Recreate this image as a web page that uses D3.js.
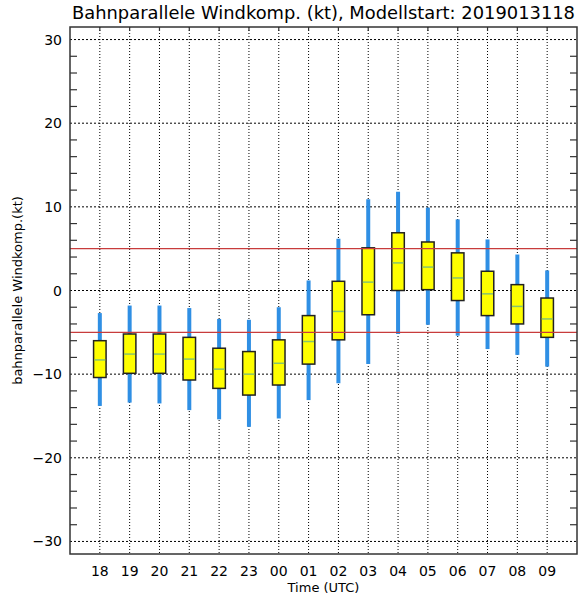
<!DOCTYPE html>
<html><head><meta charset="utf-8">
<script src="https://cdn.jsdelivr.net/npm/d3@7"></script>
<style>body{margin:0;background:#fff}svg{display:block}</style>
</head><body><svg id="c" width="578" height="599"></svg>
<script>
const categories = ["18","19","20","21","22","23","00","01","02","03","04","05","06","07","08","09"];
const whiskerLow  = [-13.8,-13.4,-13.5,-14.3,-15.4,-16.3,-15.3,-13.1,-11.1,-8.8,-5.2,-4.1,-5.4,-7.0,-7.7,-9.1];
const q1          = [-10.4, -9.9, -9.9,-10.7,-11.7,-12.5,-11.3, -8.8, -5.9,-2.9, 0.0, 0.1,-1.2,-3.0,-4.0,-5.6];
const median      = [ -8.3, -7.6, -7.6, -8.2, -9.4,-10.0, -8.7, -6.1, -2.5, 1.0, 3.3, 2.8, 1.5,-0.4,-1.9,-3.4];
const q3          = [ -6.0, -5.2, -5.2, -5.6, -6.9, -7.3, -5.9, -3.0,  1.1, 5.1, 6.9, 5.8, 4.5, 2.3, 0.7,-0.9];
const whiskerHigh = [ -2.7, -1.8, -1.8, -2.1, -3.4, -3.5, -2.0,  1.2,  6.2,10.9,11.8, 9.9, 8.5, 6.1, 4.3, 2.4];
const yTicks = [-30,-20,-10,0,10,20,30];
const yMinorTicks = d3.range(-30, 31, 2).filter(v => v % 10 !== 0);
const refLines = [-5, 5];
const titleText = "Bahnparallele Windkomp. (kt), Modellstart: 2019013118";
const yLabel = "bahnparallele Windkomp.(kt)";
const xLabel = "Time (UTC)";

const svg = d3.select("#c");
const L = 70, R = 577, T = 27, B = 554;
const x = d3.scaleLinear().domain([-1, 16]).range([L, R]);
const y = d3.scaleLinear().domain([-31.5, 31.5]).range([B, T]);
const font = "'DejaVu Sans', sans-serif";

// gridlines
svg.append("g").selectAll("line").data(yTicks).join("line")
  .attr("x1", L).attr("x2", R).attr("y1", d => y(d)).attr("y2", d => y(d))
  .attr("stroke", "#000").attr("stroke-width", 1).attr("stroke-dasharray", "2,2");
svg.append("g").selectAll("line").data(categories).join("line")
  .attr("x1", (d,i) => x(i)).attr("x2", (d,i) => x(i)).attr("y1", T).attr("y2", B)
  .attr("stroke", "#000").attr("stroke-width", 1).attr("stroke-dasharray", "1,2");

// whiskers
svg.append("g").selectAll("line").data(categories).join("line")
  .attr("x1", (d,i) => x(i)).attr("x2", (d,i) => x(i))
  .attr("y1", (d,i) => y(whiskerLow[i])).attr("y2", (d,i) => y(whiskerHigh[i]))
  .attr("stroke", "#2f8fe4").attr("stroke-width", 4);

// boxes
const bw = 12.5;
svg.append("g").selectAll("rect").data(categories).join("rect")
  .attr("x", (d,i) => x(i) - bw/2).attr("width", bw)
  .attr("y", (d,i) => y(q3[i])).attr("height", (d,i) => y(q1[i]) - y(q3[i]))
  .attr("fill", "#ffff00").attr("stroke", "#222").attr("stroke-width", 1.5);
svg.append("g").selectAll("line").data(categories).join("line")
  .attr("x1", (d,i) => x(i) - bw/2 + 0.8).attr("x2", (d,i) => x(i) + bw/2 - 0.8)
  .attr("y1", (d,i) => y(median[i])).attr("y2", (d,i) => y(median[i]))
  .attr("stroke", "#86c46e").attr("stroke-width", 1.5);

// reference lines
svg.append("g").selectAll("line").data(refLines).join("line")
  .attr("x1", L).attr("x2", R).attr("y1", d => y(d)).attr("y2", d => y(d))
  .attr("stroke", "#c83c3c").attr("stroke-width", 1.2);

// frame
svg.append("rect").attr("x", L).attr("y", T).attr("width", R - L).attr("height", B - T)
  .attr("fill", "none").attr("stroke", "#333").attr("stroke-width", 1.5);

// minor ticks left/right
const tl = 7;
svg.append("g").selectAll("line").data(yMinorTicks).join("line")
  .attr("x1", L).attr("x2", L + tl).attr("y1", d => y(d)).attr("y2", d => y(d))
  .attr("stroke", "#333").attr("stroke-width", 1.2);
svg.append("g").selectAll("line").data(yMinorTicks).join("line")
  .attr("x1", R - tl).attr("x2", R).attr("y1", d => y(d)).attr("y2", d => y(d))
  .attr("stroke", "#333").attr("stroke-width", 1.2);
// top ticks
svg.append("g").selectAll("line").data(categories).join("line")
  .attr("x1", (d,i) => x(i)).attr("x2", (d,i) => x(i)).attr("y1", T).attr("y2", T + 4)
  .attr("stroke", "#333").attr("stroke-width", 1.2);

// y tick labels
svg.append("g").selectAll("text").data(yTicks).join("text")
  .attr("x", 62).attr("y", d => y(d) + 5).attr("text-anchor", "end")
  .attr("font-family", font).attr("font-size", 14).attr("fill", "#000")
  .text(d => d < 0 ? "\u2212" + Math.abs(d) : String(d));

// x tick labels
svg.append("g").selectAll("text").data(categories).join("text")
  .attr("x", (d,i) => x(i)).attr("y", 576).attr("text-anchor", "middle")
  .attr("font-family", font).attr("font-size", 14).attr("fill", "#000")
  .text(d => d);

// axis titles
svg.append("text").attr("x", (L + R) / 2).attr("y", 592).attr("text-anchor", "middle")
  .attr("font-family", font).attr("font-size", 13).text(xLabel);
svg.append("text").attr("transform", `translate(22,${(T + B) / 2}) rotate(-90)`)
  .attr("text-anchor", "middle").attr("font-family", font).attr("font-size", 13).text(yLabel);

// title
svg.append("text").attr("x", 72).attr("y", 19)
  .attr("font-family", font).attr("font-size", 17)
  .attr("textLength", 503).attr("lengthAdjust", "spacingAndGlyphs")
  .text(titleText);
</script>
</body></html>
